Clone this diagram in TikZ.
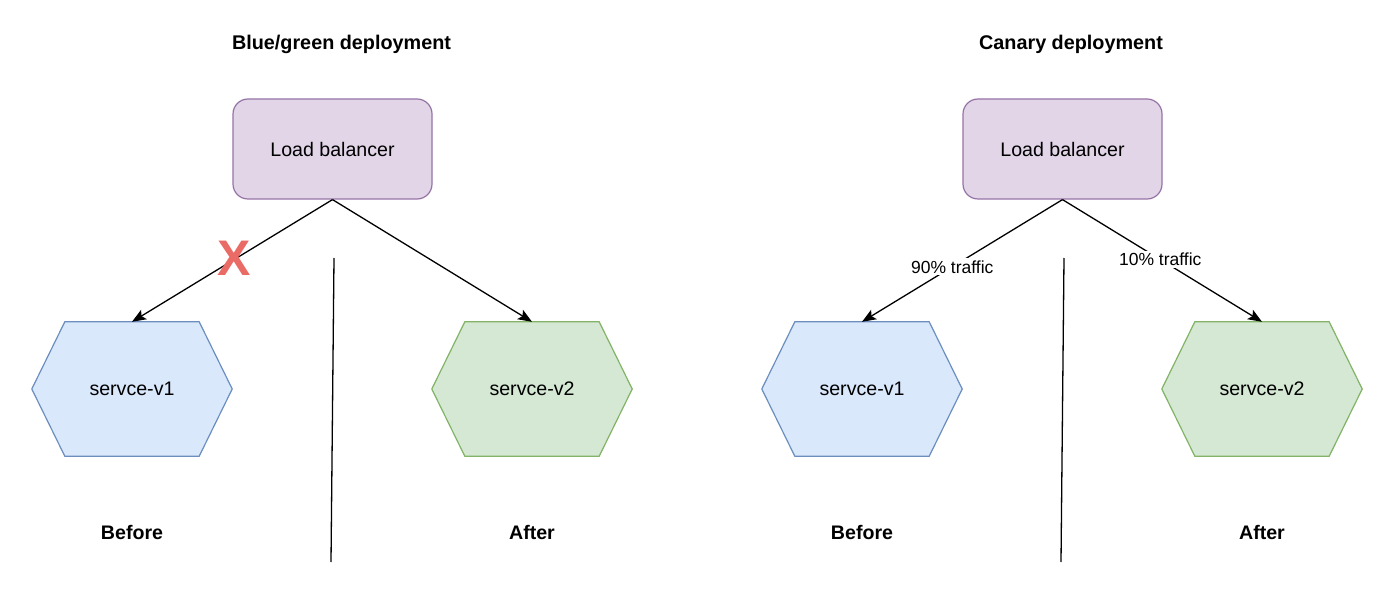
\documentclass[tikz,border=0pt]{standalone}
\usepackage{fontspec}
\setmainfont{Liberation Sans}
\usetikzlibrary{arrows.meta}
\definecolor{lbfill}{HTML}{E1D5E7}
\definecolor{lbdraw}{HTML}{9673A6}
\definecolor{bfill}{HTML}{DAE8FC}
\definecolor{bdraw}{HTML}{6C8EBF}
\definecolor{gfill}{HTML}{D5E8D4}
\definecolor{gdraw}{HTML}{82B366}
\definecolor{xred}{HTML}{EA6B66}
\begin{document}
\begin{tikzpicture}[x=1pt,y=-1pt,
  lbbox/.style={draw=lbdraw,fill=lbfill,line width=1.2pt,rounded corners=15pt,minimum width=199pt,minimum height=100pt,inner sep=0pt,font=\fontsize{19.6}{23}\selectfont},
  hexbox/.style={minimum width=200pt,minimum height=134pt,inner sep=0pt,font=\fontsize{19.6}{23}\selectfont},
  title/.style={font=\fontsize{19.8}{23}\selectfont\bfseries},
  lbl/.style={font=\fontsize{19.6}{23}\selectfont\bfseries},
  conn/.style={line width=1.3pt,-{Stealth[length=14pt,width=11pt,inset=3pt]}},
  trafficlbl/.style={fill=white,inner sep=2pt,font=\fontsize{17.5}{21}\selectfont},
  divider/.style={line width=1.3pt}
]
\useasboundingbox[fill=white] (0,0) rectangle (1400,593);

% titles
\node[title] (t1) at (341.5,44) {Blue/green deployment};
\node[title] (t2) at (1071,44) {Canary deployment};

% load balancers
\node[lbbox] (lb1) at (332.5,149) {Load balancer};
\node[lbbox] (lb2) at (1062.5,149) {Load balancer};

% hexagon nodes
\node[hexbox] (a1) at (132,389) {};
\node[hexbox] (a2) at (532,389) {};
\node[hexbox] (b1) at (862,389) {};
\node[hexbox] (b2) at (1262,389) {};
\foreach \n/\f/\d in {a1/bfill/bdraw,a2/gfill/gdraw,b1/bfill/bdraw,b2/gfill/gdraw}{
  \draw[fill=\f,draw=\d,line width=1.2pt]
    (\n.west) -- ([xshift=33pt]\n.north west) -- ([xshift=-33pt]\n.north east)
    -- (\n.east) -- ([xshift=-33pt]\n.south east) -- ([xshift=33pt]\n.south west) -- cycle;
}
\node[hexbox] at (a1) {servce-v1};
\node[hexbox] at (a2) {servce-v2};
\node[hexbox] at (b1) {servce-v1};
\node[hexbox] at (b2) {servce-v2};

% connectors
\draw[conn] (lb1.south) -- (a1.north);
\draw[conn] (lb1.south) -- (a2.north);
\draw[conn] (lb2.south) -- node[trafficlbl,pos=0.55] (p90) {90\% traffic} (b1.north);
\draw[conn] (lb2.south) -- node[trafficlbl,pos=0.49] (p10) {10\% traffic} (b2.north);

% red X
\node[text=xred,font=\fontsize{50}{55}\selectfont\bfseries,inner sep=0pt] (xm) at (234,258) {X};

% dividers
\coordinate (d1t) at (334,258);
\coordinate (d1b) at (331,562);
\coordinate (d2t) at (1064,258);
\coordinate (d2b) at (1061,562);
\draw[divider] (d1t) -- (d1b);
\draw[divider] (d2t) -- (d2b);

% before/after labels
\node[lbl] (bf1) at (132,532) {Before};
\node[lbl] (af1) at (532,532) {After};
\node[lbl] (bf2) at (862,532) {Before};
\node[lbl] (af2) at (1262,532) {After};
\end{tikzpicture}
\end{document}
